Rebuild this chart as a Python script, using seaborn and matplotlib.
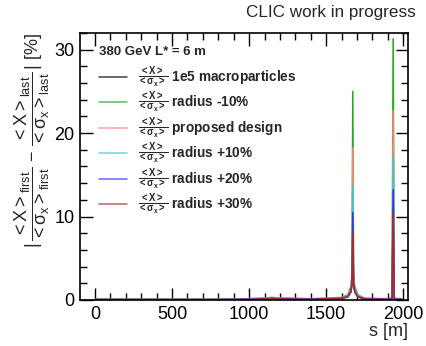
import numpy as np
import pandas as pd
import matplotlib
matplotlib.use("Agg")
import matplotlib.pyplot as plt
import seaborn as sns
from matplotlib.ticker import MultipleLocator

sns.set_theme(style="ticks", rc={
    'xtick.direction': 'in', 'ytick.direction': 'in',
    'xtick.top': True, 'ytick.right': True,
    'xtick.major.size': 9, 'ytick.major.size': 9,
    'xtick.minor.size': 5, 'ytick.minor.size': 5,
    'xtick.major.width': 1, 'ytick.major.width': 1,
    'xtick.minor.width': 1, 'ytick.minor.width': 1,
    'xtick.color': 'black', 'ytick.color': 'black',
})
plt.rcParams['font.family'] = ['Liberation Sans', 'DejaVu Sans']
plt.rcParams['mathtext.fontset'] = 'custom'
plt.rcParams['mathtext.rm'] = 'Liberation Sans'
plt.rcParams['mathtext.it'] = 'Liberation Sans'
plt.rcParams['mathtext.bf'] = 'Liberation Sans:bold'

s = [0, 200, 400, 600, 800, 1000, 1100, 1150, 1200, 1400, 1600, 1640, 1660, 1668, 1673,
     1678, 1686, 1706, 1750, 1900, 1928, 1935, 1942, 1960, 1990]

labels = ["1e5 macroparticles", "radius -10%", "proposed design",
          "radius +10%", "radius +20%", "radius +30%"]
colors = ["#000000", "#22aa22", "#ff8080", "#33cccc", "#3333ee", "#aa2a2a"]

v_macro = [0.05, 0.05, 0.05, 0.05, 0.05, 0.1, 0.15, 0.2, 0.15, 0.1, 0.2, 0.4, 1.0, 2.0, 8.0,
           2.0, 1.0, 0.4, 0.15, 0.1, 0.15, 10.0, 0.15, 0.1, 0.1]
v_m10 = [0.08, 0.08, 0.08, 0.08, 0.08, 0.15, 0.25, 0.3, 0.25, 0.15, 0.3, 0.6, 1.6, 3.0, 25.0,
         3.0, 1.6, 0.6, 0.2, 0.15, 0.25, 31.3, 0.25, 0.15, 0.15]
v_prop = [0.06, 0.06, 0.06, 0.06, 0.06, 0.12, 0.2, 0.25, 0.2, 0.12, 0.25, 0.5, 1.3, 2.5, 18.2,
          2.5, 1.3, 0.5, 0.18, 0.12, 0.2, 22.7, 0.2, 0.12, 0.12]
v_p10 = [0.05, 0.05, 0.05, 0.05, 0.05, 0.1, 0.18, 0.22, 0.18, 0.1, 0.22, 0.45, 1.1, 2.2, 13.7,
         2.2, 1.1, 0.45, 0.15, 0.1, 0.18, 17.2, 0.18, 0.1, 0.1]
v_p20 = [0.05, 0.05, 0.05, 0.05, 0.05, 0.1, 0.15, 0.2, 0.15, 0.1, 0.2, 0.4, 1.0, 2.0, 10.5,
         2.0, 1.0, 0.4, 0.15, 0.1, 0.15, 13.2, 0.15, 0.1, 0.1]
v_p30 = [0.04, 0.04, 0.04, 0.04, 0.04, 0.08, 0.12, 0.18, 0.12, 0.08, 0.18, 0.35, 0.9, 1.8, 8.2,
         1.8, 0.9, 0.35, 0.12, 0.08, 0.12, 10.4, 0.12, 0.08, 0.08]

series = [v_macro, v_m10, v_prop, v_p10, v_p20, v_p30]
frac = r"$\mathbf{\frac{{<}X{>}}{{<}\sigma_x{>}}}$ "
names = [frac + lab for lab in labels]

df = pd.concat([pd.DataFrame({"s": s, "val": v, "name": n}) for v, n in zip(series, names)],
               ignore_index=True)

fig = plt.figure(figsize=(4.26, 3.46), dpi=100)
ax = fig.add_axes([0.188, 0.133, 0.770, 0.772])

sns.lineplot(data=df, x="s", y="val", hue="name", hue_order=names,
             palette=colors, linewidth=1.1, ax=ax, estimator=None, sort=True)

ax.set_xlim(-97, 2032)
ax.set_ylim(0, 32)
ax.xaxis.set_major_locator(MultipleLocator(500))
ax.xaxis.set_minor_locator(MultipleLocator(100))
ax.yaxis.set_major_locator(MultipleLocator(10))
ax.yaxis.set_minor_locator(MultipleLocator(2))
ax.tick_params(which='both', direction='in', top=True, right=True, color='black')
ax.tick_params(which='major', length=9, width=1, labelsize=13, pad=4)
ax.tick_params(which='minor', length=5, width=1)
for sp in ax.spines.values():
    sp.set_linewidth(1.2)
    sp.set_color('black')

ax.set_xlabel("s [m]", fontsize=13, loc='right', labelpad=0)
ax.set_ylabel(r"$|\,\dfrac{{<}X{>}_{first}}{{<}\sigma_x{>}_{first}}\,-\,\dfrac{{<}X{>}_{last}}{{<}\sigma_x{>}_{last}}\,|$ [%]",
              fontsize=13, loc='top', labelpad=2)

leg = ax.legend(title="380 GeV L* = 6 m", loc='upper left', frameon=False,
                fontsize=9.8, title_fontproperties={'weight': 'bold', 'size': 9.5},
                handlelength=2.0, labelspacing=0.02, borderaxespad=0.3,
                bbox_to_anchor=(0.03, 0.985))
leg._legend_box.align = "left"
leg._legend_box.sep = 4.5
for t in leg.get_texts():
    t.set_fontweight('bold')
for h in leg.get_lines():
    h.set_alpha(0.75)

fig.text(0.975, 0.965, "CLIC work in progress", ha='right', va='center', fontsize=12.3)

fig.savefig("out.png", dpi=100)
